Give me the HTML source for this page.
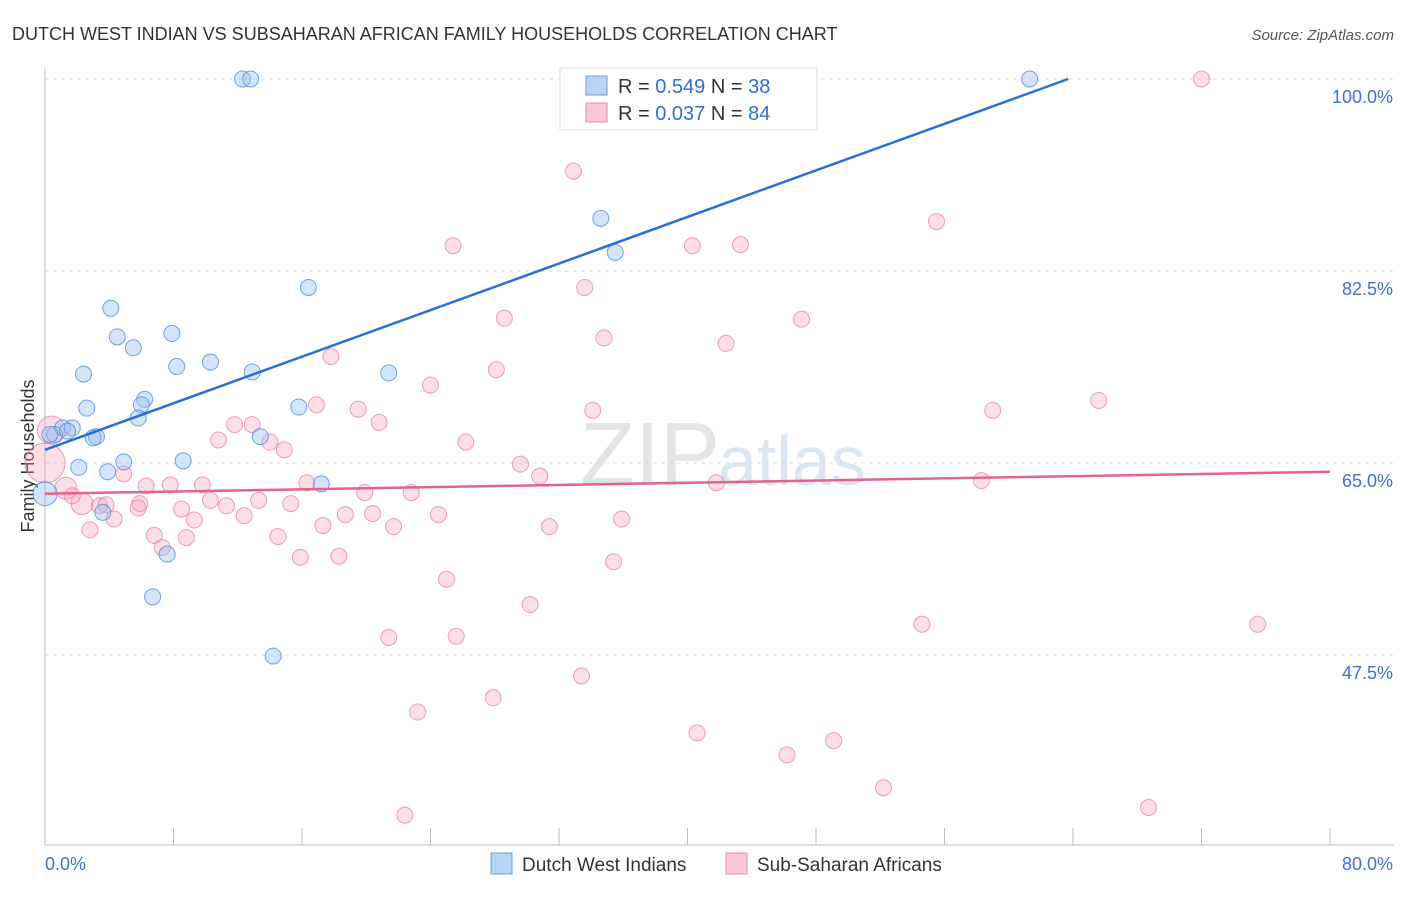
<!DOCTYPE html>
<html><head><meta charset="utf-8"><style>
body{margin:0;background:#fff;font-family:"Liberation Sans",sans-serif;}
svg text{font-family:"Liberation Sans",sans-serif;}
</style></head><body>
<svg id="chart" width="1406" height="892" xmlns="http://www.w3.org/2000/svg">
<text x="12" y="40" font-size="18" fill="#333">DUTCH WEST INDIAN VS SUBSAHARAN AFRICAN FAMILY HOUSEHOLDS CORRELATION CHART</text>
<text x="1394" y="40" font-size="15" fill="#555" text-anchor="end" font-style="italic">Source: ZipAtlas.com</text>
<text x="720" y="485" font-size="90" fill="#e4e4e4" text-anchor="end" font-family="Liberation Serif">ZIP</text>
<text x="718" y="485" font-size="70" fill="#dce6f2">atlas</text>
<text transform="translate(34,456) rotate(-90)" font-size="18" fill="#333" text-anchor="middle">Family Households</text>
<g id="grid"></g><g id="axes"></g><g id="pts"></g><g id="lines"></g>
<g>
<rect x="560" y="68" width="257" height="62" fill="#fff" stroke="#ddd"/>
<rect x="586" y="76" width="21" height="19" fill="#b9d3f5" stroke="#6a9de0"/>
<rect x="586" y="103" width="21" height="19" fill="#f9c7d5" stroke="#e98aa8"/>
<text x="618" y="93" font-size="20" fill="#333">R = <tspan fill="#2f6fd6">0.549</tspan>   N = <tspan fill="#2f6fd6">38</tspan></text>
<text x="618" y="120" font-size="20" fill="#333">R = <tspan fill="#2f6fd6">0.037</tspan>   N = <tspan fill="#2f6fd6">84</tspan></text>
</g>
<g>
<rect x="491" y="853" width="21" height="21" fill="#b9d3f5" stroke="#6a9de0"/>
<text x="522" y="871" font-size="19" fill="#333">Dutch West Indians</text>
<rect x="726" y="853" width="21" height="21" fill="#f9c7d5" stroke="#e98aa8"/>
<text x="757" y="871" font-size="19" fill="#333">Sub-Saharan Africans</text>
</g>
</svg>
<script>
const yTicks=[100,82.5,65,47.5];
const yTickLabels=["100.0%","82.5%","65.0%","47.5%"];
const xTicks=[0,8,16,24,32,40,48,56,64,72,80];
const blueX=[12.3,12.8,61.3,34.6,35.5,16.4,4.1,7.9,4.5,5.5,8.2,10.3,2.4,12.9,21.4,6.2,6.0,2.6,15.8,5.8,1.1,1.7,0.6,1.4,3.2,3.0,13.4,2.1,3.9,4.9,8.6,17.2,0.0,3.6,7.6,6.7,14.2,0.3];
const blueY=[100,100,100,87.3,84.2,81.0,79.1,76.8,76.5,75.5,73.8,74.2,73.1,73.3,73.2,70.8,70.3,70.0,70.1,69.1,68.2,68.2,67.6,67.9,67.4,67.3,67.4,64.6,64.2,65.1,65.2,63.1,62.2,60.5,56.7,52.8,47.4,67.6];
const blueR=[8,8,8,8,8,8,8,8,8,8,8,8,8,8,8,8,8,8,8,8,8,8,8,8,8,8,8,8,8,8,8,8,12,8,8,8,8,8];
const pinkX=[72.0,32.9,55.5,25.4,40.3,43.3,33.6,28.6,47.1,34.8,42.4,17.8,28.1,24.0,65.6,59.0,16.9,19.5,34.1,20.8,11.8,12.9,10.8,14.0,26.2,14.9,29.6,30.8,41.8,58.3,4.9,16.3,9.8,6.3,7.8,19.9,22.8,0.0,1.3,0.4,2.3,3.4,3.8,5.9,10.3,13.3,15.3,11.3,12.4,8.5,1.7,4.3,9.3,18.7,20.4,24.5,35.9,17.3,21.7,31.4,6.8,2.8,8.8,14.5,7.3,15.9,18.3,35.4,25.0,30.2,54.6,75.5,21.4,25.6,33.4,27.9,23.2,40.6,46.2,49.1,52.2,68.7,22.4,5.8];
const pinkY=[100,91.6,87.0,84.8,84.8,84.9,81.0,78.2,78.1,76.4,75.9,74.7,73.5,72.1,70.7,69.8,70.3,69.9,69.8,68.7,68.5,68.5,67.1,66.9,66.9,66.2,64.9,63.8,63.2,63.4,64.0,63.2,63.0,62.9,63.0,62.3,62.3,65.0,62.7,68.0,61.3,61.1,61.2,61.3,61.6,61.6,61.3,61.1,60.2,60.8,62.0,59.9,59.8,60.3,60.4,60.3,59.9,59.3,59.2,59.2,58.4,58.9,58.2,58.3,57.3,56.4,56.5,56.0,54.4,52.1,50.3,50.3,49.1,49.2,45.6,43.6,42.3,40.4,38.4,39.7,35.4,33.6,32.9,60.9];
const pinkR=pinkX.map((v,i)=>i==37?20:(i==39?14:(i==38||i==40||i==36&&false?11:8)));
const blueLine=[0,66.2,63.7,100];
const pinkLine=[0,62.2,80,64.2];
const NS="http://www.w3.org/2000/svg";
const X=v=>45+v/80*1285, Y=v=>79+(100-v)/17.5*192;
function mk(t,a,p){const e=document.createElementNS(NS,t);for(const k in a)e.setAttribute(k,a[k]);document.getElementById(p).appendChild(e);return e;}
yTicks.forEach((t,i)=>{
 const g=mk('line',{x1:45,x2:1394,y1:Y(t),y2:Y(t),stroke:'#ddd','stroke-dasharray':'4,4'},'grid');
 
 
 const l=mk('text',{x:1393,y:Y(t)+24,'font-size':18,fill:'#3a72d8','text-anchor':'end'},'axes');l.textContent=yTickLabels[i];
 
 
});
const ax=mk('line',{x1:45,x2:45,y1:68,y2:845,stroke:'#bbb'},'axes');


const bx=mk('line',{x1:45,x2:1394,y1:845,y2:845,stroke:'#bbb'},'axes');


xTicks.forEach(t=>{const k=mk('line',{x1:X(t),x2:X(t),y1:828,y2:845,stroke:'#bbb'},'axes');
 
 });
const xl0=mk('text',{x:45,y:870,'font-size':18,fill:'#3a72d8'},'axes');xl0.textContent='0.0%';


const xl1=mk('text',{x:1393,y:870,'font-size':18,fill:'#3a72d8','text-anchor':'end'},'axes');xl1.textContent='80.0%';


pinkX.forEach((v,i)=>{const c=mk('circle',{cx:X(v),cy:Y(pinkY[i]),r:pinkR[i],fill:'rgba(245,160,185,0.35)',stroke:'rgba(230,120,155,0.7)','stroke-width':1},'pts');
 
 });
blueX.forEach((v,i)=>{const c=mk('circle',{cx:X(v),cy:Y(blueY[i]),r:blueR[i],fill:'rgba(150,190,240,0.4)',stroke:'rgba(80,140,220,0.8)','stroke-width':1},'pts');
 
 });
const bl=mk('line',{x1:X(blueLine[0]),y1:Y(blueLine[1]),x2:X(blueLine[2]),y2:Y(blueLine[3]),stroke:'#2a6fd6','stroke-width':2.5},'lines');


const pl=mk('line',{x1:X(pinkLine[0]),y1:Y(pinkLine[1]),x2:X(pinkLine[2]),y2:Y(pinkLine[3]),stroke:'#e4628e','stroke-width':2.5},'lines');


</script>
</body></html>
